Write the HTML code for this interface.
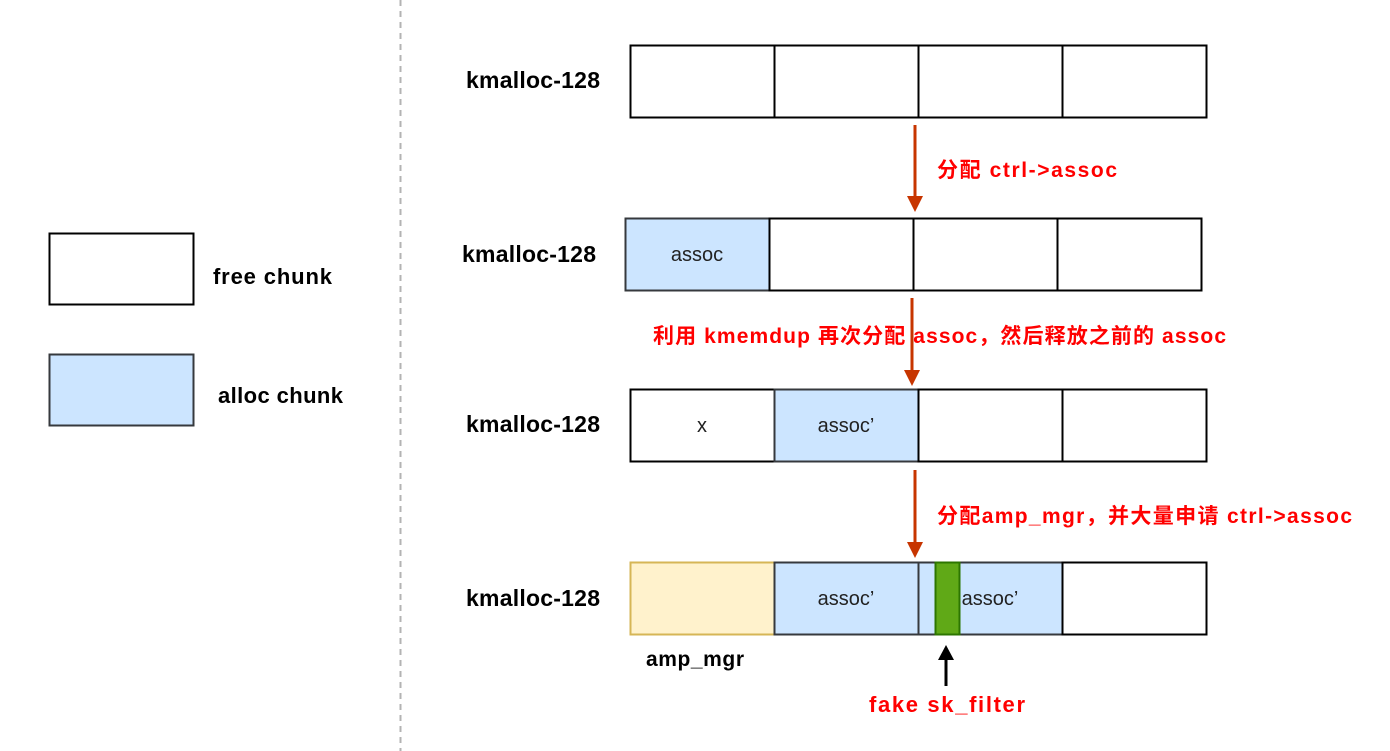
<!DOCTYPE html>
<html><head><meta charset="utf-8"><style>
html,body{margin:0;padding:0;background:#fff;}
svg{display:block;}
text{font-family:"Liberation Sans","Noto Sans CJK SC",sans-serif;}
.k{font-size:23px;font-weight:bold;fill:#000;}
.r{font-size:21px;font-weight:bold;fill:#ff0000;}
.c{font-size:20px;fill:#222;}
</style></head><body>
<svg width="1390" height="751" viewBox="0 0 1390 751" xmlns="http://www.w3.org/2000/svg">
<line x1="400.5" y1="0" x2="400.5" y2="751" stroke="#b3b3b3" stroke-width="2" stroke-dasharray="6,5"/>
<!-- legend -->
<rect x="49.5" y="233.5" width="144" height="71" fill="#fff" stroke="#000" stroke-width="2"/>
<text x="213" y="284" class="k" style="font-size:22px" textLength="119">free chunk</text>
<rect x="49.5" y="354.5" width="144" height="71" fill="#cce5ff" stroke="#36393d" stroke-width="2"/>
<text x="218" y="403" class="k" style="font-size:22px" textLength="125">alloc chunk</text>

<!-- row1 -->
<text x="466" y="88" class="k" textLength="134">kmalloc-128</text>
<g fill="#fff" stroke="#000" stroke-width="2">
<rect x="630.5" y="45.5" width="144" height="72"/><rect x="774.5" y="45.5" width="144" height="72"/>
<rect x="918.5" y="45.5" width="144" height="72"/><rect x="1062.5" y="45.5" width="144" height="72"/>
</g>
<line x1="915" y1="125" x2="915" y2="200" stroke="#c73500" stroke-width="3"/>
<polygon points="907,196 923,196 915,212" fill="#c73500"/>
<text x="937" y="177" class="r" textLength="180">分配 ctrl-&gt;assoc</text>

<!-- row2 -->
<text x="462" y="262" class="k" textLength="134">kmalloc-128</text>
<rect x="625.5" y="218.5" width="144" height="72" fill="#cce5ff" stroke="#36393d" stroke-width="2"/>
<g fill="#fff" stroke="#000" stroke-width="2">
<rect x="769.5" y="218.5" width="144" height="72"/><rect x="913.5" y="218.5" width="144" height="72"/><rect x="1057.5" y="218.5" width="144" height="72"/>
</g>
<text x="697" y="261" class="c" text-anchor="middle">assoc</text>
<line x1="912" y1="298" x2="912" y2="374" stroke="#c73500" stroke-width="3"/>
<polygon points="904,370 920,370 912,386" fill="#c73500"/>
<text x="653" y="343" class="r" textLength="573">利用 kmemdup 再次分配 assoc，然后释放之前的 assoc</text>

<!-- row3 -->
<text x="466" y="432" class="k" textLength="134">kmalloc-128</text>
<rect x="630.5" y="389.5" width="144" height="72" fill="#fff" stroke="#000" stroke-width="2"/>
<rect x="774.5" y="389.5" width="144" height="72" fill="#cce5ff" stroke="#36393d" stroke-width="2"/>
<g fill="#fff" stroke="#000" stroke-width="2">
<rect x="918.5" y="389.5" width="144" height="72"/><rect x="1062.5" y="389.5" width="144" height="72"/>
</g>
<text x="702" y="432" class="c" text-anchor="middle">x</text>
<text x="846" y="432" class="c" text-anchor="middle">assoc’</text>
<line x1="915" y1="470" x2="915" y2="546" stroke="#c73500" stroke-width="3"/>
<polygon points="907,542 923,542 915,558" fill="#c73500"/>
<text x="937" y="523" class="r" textLength="415">分配amp_mgr，并大量申请 ctrl-&gt;assoc</text>

<!-- row4 -->
<text x="466" y="606" class="k" textLength="134">kmalloc-128</text>
<rect x="630.5" y="562.5" width="144" height="72" fill="#fff2cc" stroke="#d6b656" stroke-width="2"/>
<rect x="774.5" y="562.5" width="144" height="72" fill="#cce5ff" stroke="#36393d" stroke-width="2"/>
<rect x="918.5" y="562.5" width="144" height="72" fill="#cce5ff" stroke="#36393d" stroke-width="2"/>
<rect x="1062.5" y="562.5" width="144" height="72" fill="#fff" stroke="#000" stroke-width="2"/>
<text x="846" y="605" class="c" text-anchor="middle">assoc’</text>
<text x="990" y="605" class="c" text-anchor="middle">assoc’</text>
<rect x="935.5" y="562.5" width="24" height="72" fill="#60a917" stroke="#2d7600" stroke-width="2"/>
<text x="646" y="666" class="k" style="font-size:21px" textLength="98">amp_mgr</text>
<line x1="946" y1="686" x2="946" y2="656" stroke="#000" stroke-width="3"/>
<polygon points="938,660 954,660 946,645" fill="#000"/>
<text x="869" y="712" class="r" style="font-size:22px" textLength="156">fake sk_filter</text>
</svg>
</body></html>
